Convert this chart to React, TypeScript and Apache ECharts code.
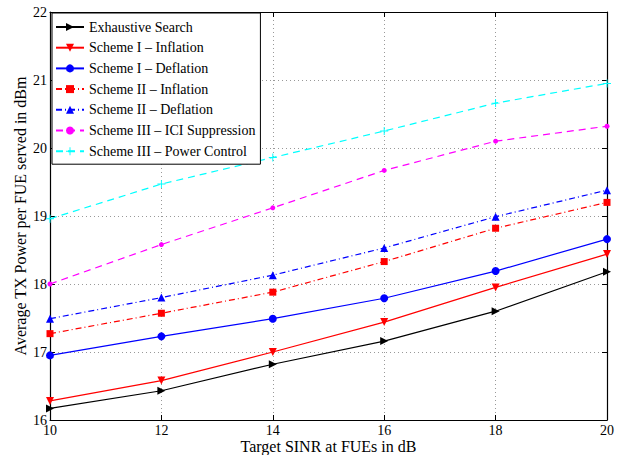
import React, { useEffect, useRef } from "react";
import * as echarts from "echarts";

const xValues = [10, 12, 14, 16, 18, 20];
const exhaustive = [16.17, 16.43, 16.82, 17.16, 17.6, 18.18];
const schemeIInfl = [16.28, 16.58, 17.0, 17.44, 17.95, 18.44];
const schemeIDefl = [16.95, 17.23, 17.49, 17.79, 18.19, 18.66];
const schemeIIInfl = [17.27, 17.57, 17.88, 18.33, 18.82, 19.2];
const schemeIIDefl = [17.49, 17.8, 18.13, 18.53, 18.99, 19.38];
const schemeIIIICI = [18.0, 18.58, 19.12, 19.67, 20.1, 20.32];
const schemeIIIPC = [18.96, 19.47, 19.86, 20.25, 20.66, 20.95];
const seriesNames = [
  "Exhaustive Search",
  "Scheme I – Inflation",
  "Scheme I – Deflation",
  "Scheme II – Inflation",
  "Scheme II – Deflation",
  "Scheme III – ICI Suppression",
  "Scheme III – Power Control",
];

const FONT = "Liberation Serif";
const PLUS = "path://M4.4,0H5.6V4.4H10V5.6H5.6V10H4.4V5.6H0V4.4H4.4Z";

function pairs(v: number[]) {
  return xValues.map((x, i) => [x, v[i]]);
}

export default function App() {
  const ref = useRef<HTMLDivElement>(null);
  useEffect(() => {
    if (!ref.current) return;
    const chart = echarts.init(ref.current, null, { renderer: "svg" });
    const mk = (
      name: string,
      data: number[],
      color: string,
      symbol: string,
      size: number,
      rotate: number,
      type: any
    ) => ({
      name,
      type: "line",
      data: pairs(data),
      xAxisIndex: 0,
      yAxisIndex: 0,
      symbol,
      symbolSize: size,
      symbolRotate: rotate,
      showSymbol: true,
      itemStyle: { color },
      lineStyle: { color, width: 1.2, type },
      emphasis: { disabled: true },
    });
    const axisCommon = {
      axisLine: { show: true, lineStyle: { color: "#000", width: 1.2 } },
      axisTick: { show: true, inside: true, length: 5, lineStyle: { color: "#000" } },
    };
    const legendText = { fontFamily: FONT, fontSize: 14, color: "#000" };
    chart.setOption({
      animation: false,
      backgroundColor: "#fff",
      textStyle: { fontFamily: FONT },
      grid: { left: 50, right: 20, top: 12, bottom: 35, outerBoundsMode: "none" },
      legend: {
        orient: "vertical",
        left: 52,
        top: 13,
        itemWidth: 28,
        itemHeight: 10,
        itemGap: 6.7,
        padding: [7, 5, 6, 3],
        backgroundColor: "#fff",
        borderColor: "#000",
        borderWidth: 1,
        textStyle: legendText,
        data: seriesNames.map((n) => ({ name: n, textStyle: legendText })),
      },
      xAxis: [
        {
          type: "value",
          min: 10,
          max: 20,
          interval: 2,
          position: "bottom",
          name: "Target SINR at FUEs in dB",
          nameLocation: "middle",
          nameGap: 18,
          nameMoveOverlap: false,
          nameTextStyle: {
            fontFamily: FONT,
            fontSize: 16,
            lineHeight: 16,
            color: "#000",
            verticalAlign: "top",
          },
          axisLabel: { fontFamily: FONT, fontSize: 14, lineHeight: 14, color: "#000", margin: 3 },
          splitLine: { show: true, lineStyle: { color: "#999", type: [1, 3], width: 1 } },
          ...axisCommon,
        },
        {
          type: "value",
          min: 10,
          max: 20,
          interval: 2,
          position: "top",
          axisLabel: { show: false },
          splitLine: { show: false },
          ...axisCommon,
        },
      ],
      yAxis: [
        {
          type: "value",
          min: 16,
          max: 22,
          interval: 1,
          position: "left",
          name: "Average TX Power per FUE served in dBm",
          nameLocation: "middle",
          nameGap: 22,
          nameMoveOverlap: false,
          nameTextStyle: { fontFamily: FONT, fontSize: 16, color: "#000" },
          axisLabel: { fontFamily: FONT, fontSize: 14, color: "#000", margin: 3 },
          splitLine: { show: true, lineStyle: { color: "#999", type: [1, 3], width: 1 } },
          ...axisCommon,
        },
        {
          type: "value",
          min: 16,
          max: 22,
          interval: 1,
          position: "right",
          axisLabel: { show: false },
          splitLine: { show: false },
          ...axisCommon,
        },
      ],
      series: [
        mk(seriesNames[0], exhaustive, "#000000", "triangle", 8, -90, "solid"),
        mk(seriesNames[1], schemeIInfl, "#ff0000", "triangle", 8, 180, "solid"),
        mk(seriesNames[2], schemeIDefl, "#0000ff", "circle", 8, 0, "solid"),
        mk(seriesNames[3], schemeIIInfl, "#ff0000", "rect", 7, 0, [6, 3, 1, 3]),
        mk(seriesNames[4], schemeIIDefl, "#0000ff", "triangle", 8, 0, [6, 3, 1, 3]),
        mk(seriesNames[5], schemeIIIICI, "#ff00ff", "circle", 5, 0, [7, 5]),
        mk(seriesNames[6], schemeIIIPC, "#00ffff", PLUS, 8, 0, [7, 5]),
      ],
    });
    return () => chart.dispose();
  }, []);
  return (
    <div
      ref={ref}
      style={{ position: "absolute", left: 0, top: 0, width: 627, height: 455 }}
    />
  );
}
